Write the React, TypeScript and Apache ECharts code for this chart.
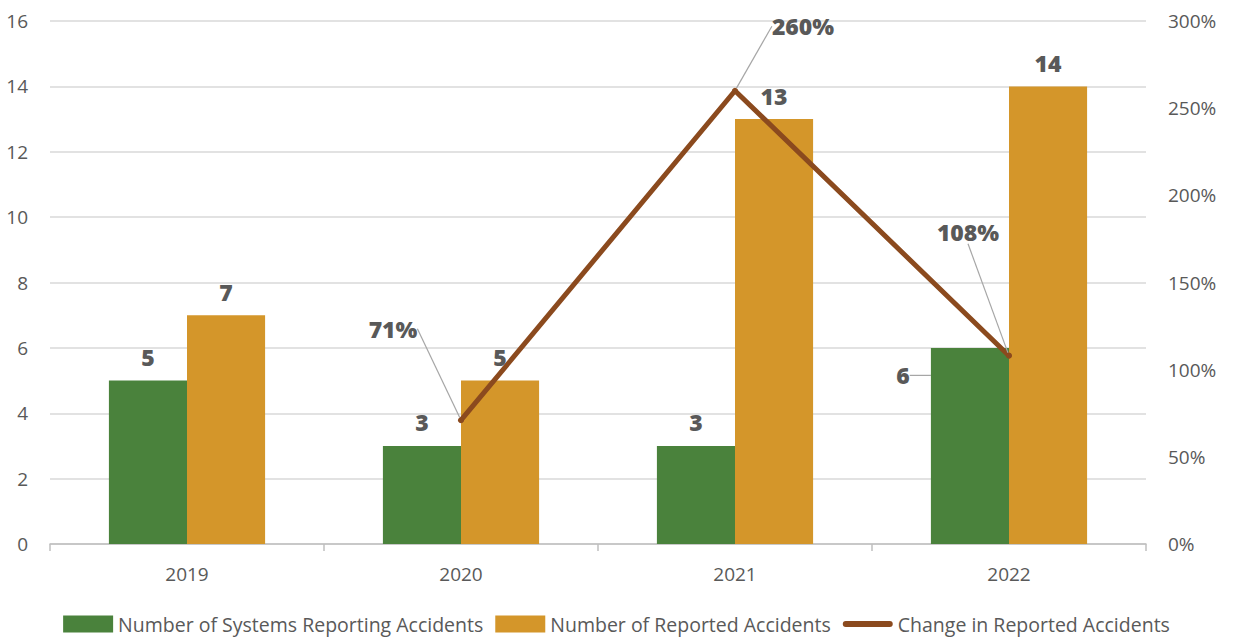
import React, { useEffect, useRef } from "react";
import * as echarts from "echarts";

const years = ["2019", "2020", "2021", "2022"];
const systemsReporting = [5, 3, 3, 6];
const reportedAccidents = [7, 5, 13, 14];
const changePct = [null, 71, 260, 108];
const leftTicks = { min: 0, max: 16, interval: 2 };
const rightTicks = { min: 0, max: 300, interval: 50 };

const GREEN = "#4A823C";
const ORANGE = "#D4962A";
const BROWN = "#8B4A1E";
const TEXT = "#595959";
const LABEL_FONT = "'Open Sans', 'DejaVu Sans', sans-serif";
const LINE_ICON =
  "path://M0,0h0.05v0.05h-0.05z M0,17h0.05v-0.05h-0.05z M3,5.5h44a3,3 0 0 1 0,6h-44a3,3 0 0 1 0,-6z";

export default function App() {
  const ref = useRef<HTMLDivElement>(null);
  useEffect(() => {
    if (!ref.current) return;
    const chart = echarts.init(ref.current, undefined, { renderer: "svg" });
    const barLabel = {
      show: true,
      position: "top" as const,
      distance: 12,
      color: TEXT,
      fontSize: 23,
      fontWeight: 800 as any,
      fontFamily: LABEL_FONT,
    };
    const leader = { show: true, lineStyle: { color: "#A6A6A6", width: 1.2 } };
    const lineDx: Record<number, [number, number]> = {
      1: [-68, -72],
      2: [68, -45],
      3: [-41, -104],
    };
    chart.setOption({
      animation: false,
      textStyle: { fontFamily: LABEL_FONT },
      grid: { left: 50, right: 87, top: 21, bottom: 97 },
      legend: {
        bottom: 2,
        left: "center",
        itemWidth: 50,
        itemHeight: 17,
        itemGap: 12,
        textStyle: { color: TEXT, fontSize: 19.5, fontFamily: "'Open Sans', sans-serif" },
        data: [
          { name: "Number of Systems Reporting Accidents", icon: "rect" },
          { name: "Number of Reported Accidents", icon: "rect" },
          { name: "Change in Reported Accidents", icon: LINE_ICON },
        ],
      },
      xAxis: {
        type: "category",
        data: years,
        axisLine: { lineStyle: { color: "#BFBFBF", width: 1.5 } },
        axisTick: { show: true, length: 7, lineStyle: { color: "#BFBFBF", width: 1.5 } },
        axisLabel: { color: TEXT, fontSize: 19, margin: 20 },
      },
      yAxis: [
        {
          type: "value",
          ...leftTicks,
          axisLabel: { color: TEXT, fontSize: 19, margin: 22 },
          splitLine: { lineStyle: { color: "#D9D9D9", width: 1.5 } },
          axisLine: { show: false },
        },
        {
          type: "value",
          ...rightTicks,
          position: "right",
          axisLabel: { color: TEXT, fontSize: 19, margin: 22, formatter: "{value}%" },
          splitLine: { show: false },
          axisLine: { show: false },
        },
      ],
      series: [
        {
          name: "Number of Systems Reporting Accidents",
          type: "bar",
          data: systemsReporting.map((v, i) =>
            i === 3 ? { value: v, labelLine: leader } : { value: v }
          ),
          barGap: "0%",
          barCategoryGap: "43%",
          itemStyle: { color: GREEN },
          label: barLabel,
          labelLine: { show: false },
          labelLayout: (p: any) => (p.dataIndex === 3 ? { dx: -67, dy: 51 } : {}),
        },
        {
          name: "Number of Reported Accidents",
          type: "bar",
          data: reportedAccidents,
          itemStyle: { color: ORANGE },
          label: barLabel,
        },
        {
          name: "Change in Reported Accidents",
          type: "line",
          yAxisIndex: 1,
          data: changePct,
          symbol: "circle",
          symbolSize: 6,
          lineStyle: { color: BROWN, width: 5, cap: "round" },
          itemStyle: { color: BROWN },
          label: {
            show: true,
            position: "top",
            distance: 5,
            color: TEXT,
            fontSize: 23,
            fontWeight: 800 as any,
            fontFamily: LABEL_FONT,
            formatter: (p: any) => `${p.value}%`,
          },
          labelLine: leader,
          labelLayout: (p: any) => {
            const d = lineDx[p.dataIndex];
            return d ? { dx: d[0], dy: d[1] } : {};
          },
        },
      ],
    });
    return () => chart.dispose();
  }, []);
  return <div ref={ref} style={{ width: 1233, height: 641, position: "absolute", left: 0, top: 0 }} />;
}
